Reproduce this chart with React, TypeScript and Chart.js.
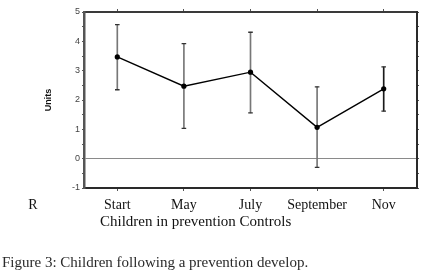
import React, { useEffect, useRef } from "react";
import { Chart, registerables } from "chart.js";

Chart.register(...registerables);

const categories = ["Start", "May", "July", "September", "Nov"];
const means = [3.47, 2.47, 2.95, 1.07, 2.38];
const upper = [4.57, 3.92, 4.31, 2.45, 3.13];
const lower = [2.35, 1.03, 1.56, -0.3, 1.62];
const stemColors = ["#777", "#777", "#777", "#777", "#1a1a1a"];
const yMin = -1;
const yMax = 5;
const yStep = 0.5;
const yTitle = "Units";
const xTitle = "Children in prevention Controls";
const sideLabel = "R";
const caption = "Figure 3: Children following a prevention develop.";

const SERIF = '"Liberation Serif", "Times New Roman", serif';
const SANS = '"Liberation Sans", Arial, sans-serif';

const extrasPlugin = {
  id: "extras",
  afterDraw(chart: any) {
    const ctx = chart.ctx;
    ctx.save();
    ctx.fillStyle = "#111";
    ctx.textBaseline = "middle";
    ctx.font = `14px ${SERIF}`;
    ctx.textAlign = "center";
    ctx.fillText(sideLabel, 33, 205);
    ctx.font = `15px ${SERIF}`;
    ctx.textAlign = "left";
    ctx.fillText(xTitle, 100, 222);
    ctx.fillStyle = "#2a2a2a";
    ctx.fillText(caption, 2, 263);
    ctx.restore();
  },
};

export default function App() {
  const ref = useRef<HTMLCanvasElement | null>(null);

  useEffect(() => {
    document.body.style.margin = "0";
    const canvas = ref.current;
    if (!canvas) return;
    const chart = new Chart(canvas, {
      type: "line",
      data: {
        labels: categories,
        datasets: [
          {
            type: "line",
            label: "mean",
            data: means,
            borderColor: "#000",
            borderWidth: 1.4,
            pointRadius: 2.6,
            pointBackgroundColor: "#000",
            pointBorderColor: "#000",
            pointBorderWidth: 0,
            tension: 0,
            order: 0,
          },
          {
            type: "line",
            label: "upper cap",
            data: upper,
            showLine: false,
            pointStyle: "line",
            pointRadius: 2.3,
            borderColor: "#333",
            pointBorderColor: "#333",
            pointBorderWidth: 1.3,
            order: 1,
          },
          {
            type: "line",
            label: "lower cap",
            data: lower,
            showLine: false,
            pointStyle: "line",
            pointRadius: 2.3,
            borderColor: "#333",
            pointBorderColor: "#333",
            pointBorderWidth: 1.3,
            order: 1,
          },
          {
            type: "bar",
            label: "range",
            data: lower.map((l, i) => [l, upper[i]]) as any,
            backgroundColor: stemColors,
            borderWidth: 0,
            barThickness: 1,
            order: 2,
          },
        ],
      },
      options: {
        animation: false,
        responsive: false,
        events: [],
        layout: { padding: { left: 42, top: 0, right: 0, bottom: 36 } },
        plugins: {
          legend: { display: false },
          tooltip: { enabled: false },
          title: { display: false },
        },
        scales: {
          x: {
            type: "category",
            position: "bottom",
            offset: true,
            grid: {
              offset: false,
              drawOnChartArea: false,
              drawTicks: true,
              tickLength: 3,
              tickColor: "#555",
            },
            border: { display: true, color: "#2a2a2a", width: 2 },
            ticks: {
              color: "#111",
              font: { family: SERIF, size: 14 },
              padding: 6,
              maxRotation: 0,
              autoSkip: false,
            },
            afterFit: (s: any) => {
              s.height = 50;
            },
          },
          x2: {
            type: "category",
            position: "top",
            display: true,
            offset: true,
            grid: {
              offset: false,
              drawOnChartArea: false,
              drawTicks: true,
              tickLength: 3,
              tickColor: "#555",
            },
            border: { display: true, color: "#3a3a3a", width: 2 },
            ticks: { display: false },
            afterFit: (s: any) => {
              s.height = 12;
            },
          },
          y: {
            type: "linear",
            position: "left",
            min: yMin,
            max: yMax,
            ticks: {
              stepSize: yStep,
              color: "#444",
              font: { family: SANS, size: 9 },
              padding: 2,
              callback: (v: any) => (Number.isInteger(Number(v)) ? String(v) : ""),
            },
            grid: {
              drawOnChartArea: true,
              drawTicks: true,
              tickLength: 2,
              tickColor: "#555",
              color: (c: any) => (c.tick && c.tick.value === 0 ? "#8a8a8a" : "rgba(0,0,0,0)"),
              lineWidth: 1,
            },
            border: { display: true, color: "#555", width: 2.5 },
            title: {
              display: true,
              text: yTitle,
              color: "#111",
              font: { family: SANS, size: 9, weight: "bold" },
              padding: { top: 1, bottom: 0 },
            },
            afterFit: (s: any) => {
              s.width = 42;
            },
          },
          y2: {
            type: "linear",
            position: "right",
            display: true,
            min: yMin,
            max: yMax,
            ticks: { display: false, stepSize: yStep },
            grid: {
              drawOnChartArea: false,
              drawTicks: true,
              tickLength: 2,
              tickColor: "#555",
            },
            border: { display: true, color: "#2a2a2a", width: 2 },
            afterFit: (s: any) => {
              s.width = 12;
            },
          },
        },
      } as any,
      plugins: [extrasPlugin],
    });
    return () => chart.destroy();
  }, []);

  return (
    <div style={{ position: "absolute", left: 0, top: 0, width: 429, height: 274, background: "#fff" }}>
      <canvas ref={ref} width={429} height={274} />
    </div>
  );
}
